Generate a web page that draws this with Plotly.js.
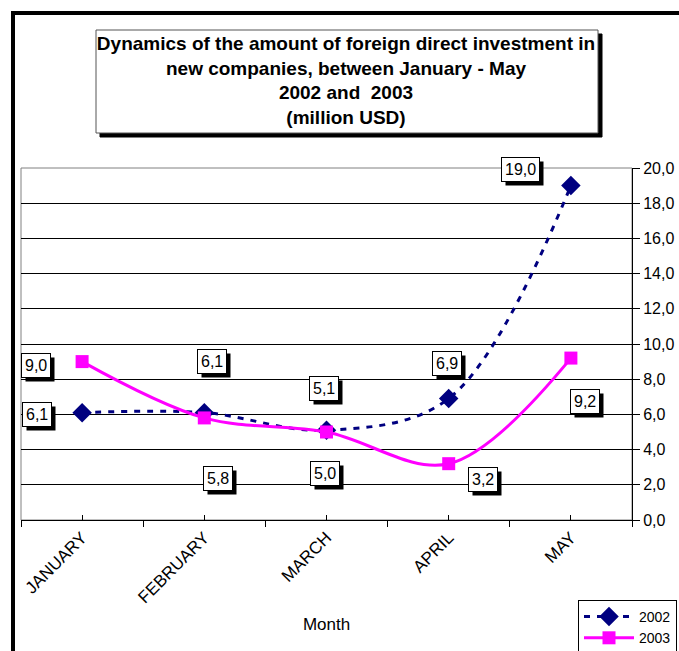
<!DOCTYPE html>
<html>
<head>
<meta charset="utf-8">
<script src="https://cdn.plot.ly/plotly-3.0.1.min.js"></script>
<style>html,body{margin:0;padding:0;background:#fff;}#chart{width:679px;height:651px;}</style>
</head>
<body>
<div id="chart"></div>
<script>
// ---- data ----
const months = ["JANUARY", "FEBRUARY", "MARCH", "APRIL", "MAY"];
const values2002 = [6.1, 6.1, 5.1, 6.9, 19.0];
const values2003 = [9.0, 5.8, 5.0, 3.2, 9.2];
const seriesNames = ["2002", "2003"];
const yTickValues = [0, 2, 4, 6, 8, 10, 12, 14, 16, 18, 20];

// label offsets (px) relative to each point
const offsets2002 = [[-45, -2], [8, 51], [-3, 42], [-2, 35], [-50, 16]];
const offsets2003 = [[-46, -4], [14, -61], [-2, -41], [34, -16], [14, -43]];

const FONT = "Liberation Sans, Arial, sans-serif";
const fmt = v => v.toFixed(1).replace(".", ",");

const traces = [
  {
    x: months, y: values2002, name: seriesNames[0], type: "scatter", mode: "lines+markers",
    line: {color: "#000080", width: 3, dash: "6px,7px", shape: "spline", smoothing: 1},
    marker: {symbol: "diamond", size: 15, color: "#000080"},
    hoverinfo: "x+y"
  },
  {
    x: months, y: values2003, name: seriesNames[1], type: "scatter", mode: "lines+markers",
    line: {color: "#FF00FF", width: 3, shape: "spline", smoothing: 1},
    marker: {symbol: "square", size: 13, color: "#FF00FF"},
    hoverinfo: "x+y"
  },
  {
    // invisible helper to draw the inner category-centre ticks
    x: months, y: values2002, xaxis: "x2", type: "scatter", mode: "markers",
    marker: {opacity: 0}, showlegend: false, hoverinfo: "skip"
  }
];

const annotations = [];
function addLabels(vals, offs) {
  vals.forEach((v, i) => {
    annotations.push({
      x: months[i], y: v, xref: "x", yref: "y", text: fmt(v), showarrow: false,
      font: {family: FONT, size: 16, color: "#000"},
      borderwidth: 1, borderpad: 3, bordercolor: "#000", bgcolor: "#fff",
      xshift: offs[i][0], yshift: offs[i][1]
    });
  });
}
addLabels(values2002, offsets2002);
addLabels(values2003, offsets2003);

// pixel helpers for paper-referenced decoration shapes
const L = 21, R = 47, T = 168, B = 131, W = 679, H = 651;
const pw = W - L - R, ph = H - T - B;
const px = p => (p - L) / pw;
const py = p => (H - B - p) / ph;

const shapes = [
  // outer frame
  {type: "rect", xref: "paper", yref: "paper", x0: px(13), x1: px(720), y0: py(720), y1: py(13),
   line: {color: "#000", width: 4}, fillcolor: "rgba(0,0,0,0)", layer: "below"},
  // title shadow + box
  {type: "rect", xref: "paper", yref: "paper", x0: px(100), x1: px(602), y0: py(137), y1: py(34),
   line: {color: "#000", width: 1}, fillcolor: "#000", layer: "below"},
  {type: "rect", xref: "paper", yref: "paper", x0: px(96), x1: px(598), y0: py(133), y1: py(30),
   line: {color: "#555", width: 1}, fillcolor: "#fff", layer: "below"},
  // plot area border
  {type: "rect", xref: "paper", yref: "paper", x0: 0, x1: 1, y0: 0, y1: 1,
   line: {color: "#808080", width: 1}, fillcolor: "rgba(0,0,0,0)", layer: "below"}
];

const layout = {
  width: W, height: H,
  margin: {l: L, r: R, t: T, b: B, autoexpand: false},
  paper_bgcolor: "#fff", plot_bgcolor: "#fff",
  separators: ", ",
  font: {family: FONT, color: "#000"},
  title: {
    text: "Dynamics of the amount of foreign direct investment in<br>new companies, between January - May<br>2002 and  2003<br>(million USD)",
    font: {family: FONT, size: 19, color: "#000", weight: "bold"},
    xref: "paper", x: px(346), xanchor: "center",
    yref: "container", y: 1 - 50 / H, yanchor: "top"
  },
  xaxis: {
    type: "category", categoryarray: months, range: [-0.5, 4.5],
    showline: true, linecolor: "#000", linewidth: 1,
    ticks: "outside", tickson: "boundaries", ticklen: 6, tickcolor: "#000",
    tickangle: -45, tickfont: {family: FONT, size: 17, color: "#000"},
    showgrid: false, zeroline: false,
    title: {text: "Month", font: {family: FONT, size: 17, color: "#000"}, standoff: 12}
  },
  xaxis2: {
    type: "category", categoryarray: months, range: [-0.5, 4.5],
    overlaying: "x", anchor: "y", side: "bottom",
    showline: false, ticks: "inside", ticklen: 5, tickcolor: "#000",
    showticklabels: false, showgrid: false, zeroline: false
  },
  yaxis: {
    side: "right", range: [0, 20], tickvals: yTickValues, tickformat: ".1f",
    showline: true, linecolor: "#000", linewidth: 1,
    ticks: "outside", ticklen: 7, tickcolor: "#000",
    tickfont: {family: FONT, size: 16, color: "#000"},
    showgrid: true, gridcolor: "#000", gridwidth: 1, zeroline: false
  },
  legend: {
    xref: "container", yref: "container",
    x: 578 / W, xanchor: "left", y: 1 - 600 / H, yanchor: "top",
    bgcolor: "#fff", bordercolor: "#000", borderwidth: 1,
    font: {family: FONT, size: 14, color: "#000"},
    itemwidth: 50, tracegroupgap: 0
  },
  showlegend: true,
  annotations: annotations,
  shapes: shapes
};

Plotly.newPlot("chart", traces, layout, {displayModeBar: false, staticPlot: true}).then(gd => {
  // add drop shadows behind the data-label boxes, sized from the rendered boxes
  const svgBox = gd.querySelector(".main-svg").getBoundingClientRect();
  const extra = [];
  gd.querySelectorAll(".annotation rect.bg").forEach(r => {
    const b = r.getBoundingClientRect();
    const l = b.left - svgBox.left + 4, rr = b.right - svgBox.left + 4;
    const t = b.top - svgBox.top + 4, bb = b.bottom - svgBox.top + 4;
    extra.push({type: "rect", xref: "paper", yref: "paper",
      x0: px(l), x1: px(rr), y0: py(bb), y1: py(t),
      fillcolor: "#000", line: {width: 0}, layer: "above"});
  });
  return Plotly.relayout(gd, {shapes: shapes.concat(extra)});
});
</script>
</body>
</html>
